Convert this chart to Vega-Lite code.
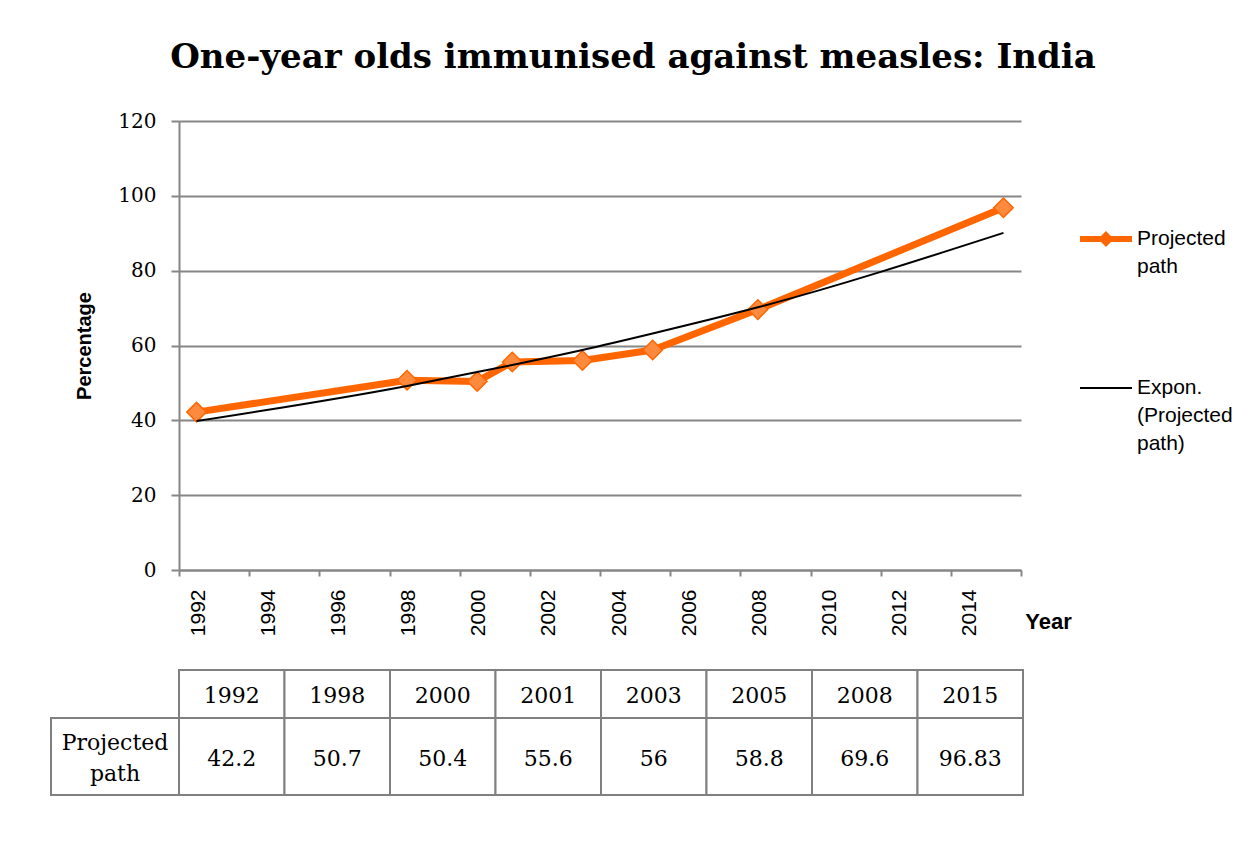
{
  "$schema": "https://vega.github.io/schema/vega-lite/v6.json",
  "padding": {"left": 50, "top": 41, "right": 10, "bottom": 10},
  "background": "white",
  "datasets": {
    "measles": [
      {"year": 1992, "value": 42.2, "series": "Projected path"},
      {"year": 1998, "value": 50.7, "series": "Projected path"},
      {"year": 2000, "value": 50.4, "series": "Projected path"},
      {"year": 2001, "value": 55.6, "series": "Projected path"},
      {"year": 2003, "value": 56, "series": "Projected path"},
      {"year": 2005, "value": 58.8, "series": "Projected path"},
      {"year": 2008, "value": 69.6, "series": "Projected path"},
      {"year": 2015, "value": 96.83, "series": "Projected path"}
    ],
    "trend": [
      {"year": 1992, "value": 39.8, "series": "Expon. (Projected path)"},
      {"year": 1998, "value": 49.2, "series": "Expon. (Projected path)"},
      {"year": 2000, "value": 52.9, "series": "Expon. (Projected path)"},
      {"year": 2001, "value": 54.8, "series": "Expon. (Projected path)"},
      {"year": 2003, "value": 58.8, "series": "Expon. (Projected path)"},
      {"year": 2005, "value": 63.2, "series": "Expon. (Projected path)"},
      {"year": 2008, "value": 70.2, "series": "Expon. (Projected path)"},
      {"year": 2015, "value": 90.1, "series": "Expon. (Projected path)"}
    ],
    "rowlabel": [
      {"label": "Projected path"}
    ]
  },
  "vconcat": [
    {
      "width": 842,
      "height": 449,
      "title": {
        "text": "One-year olds immunised against measles: India",
        "font": "DejaVu Serif",
        "fontSize": 34,
        "fontWeight": "bold",
        "color": "black",
        "anchor": "middle",
        "dx": 33,
        "offset": 36
      },
      "encoding": {
        "x": {
          "field": "year",
          "type": "quantitative",
          "scale": {"domain": [1991.5, 2015.5], "nice": false, "zero": false},
          "axis": {
            "values": [1991.5, 1993.5, 1995.5, 1997.5, 1999.5, 2001.5, 2003.5, 2005.5, 2007.5, 2009.5, 2011.5, 2013.5, 2015.5],
            "labelExpr": "datum.value < 2015 ? format(datum.value + 0.5, 'd') : ''",
            "labelAngle": 270,
            "labelAlign": "right",
            "labelBaseline": "middle",
            "labelOffset": 19,
            "labelPadding": 13,
            "labelOverlap": false,
            "labelFlush": false,
            "labelFont": "Liberation Sans",
            "labelFontSize": 21,
            "tickSize": 6,
            "grid": false,
            "title": "Year",
            "titleFont": "Liberation Sans",
            "titleFontSize": 22,
            "titleFontWeight": "bold",
            "titleAngle": 0,
            "titleAlign": "center",
            "titleBaseline": "middle",
            "titleX": 869,
            "titleY": 51
          }
        },
        "y": {
          "field": "value",
          "type": "quantitative",
          "scale": {"domain": [0, 120], "nice": false},
          "axis": {
            "values": [0, 20, 40, 60, 80, 100, 120],
            "tickSize": 8,
            "labelPadding": 15,
            "labelFont": "DejaVu Serif",
            "labelFontSize": 20,
            "grid": true,
            "title": "Percentage",
            "titleFont": "Liberation Sans",
            "titleFontSize": 20,
            "titleFontWeight": "bold",
            "titlePadding": 23
          }
        }
      },
      "layer": [
        {
          "data": {"name": "measles"},
          "mark": {"type": "line", "strokeWidth": 7, "strokeJoin": "round"},
          "encoding": {
            "color": {
              "field": "series",
              "type": "nominal",
              "scale": {
                "domain": ["Projected path", "Expon. (Projected path)"],
                "range": ["#FF6600", "#000000"]
              },
              "legend": {
                "title": null,
                "orient": "none",
                "legendX": 900,
                "legendY": 91,
                "padding": 0,
                "symbolType": "stroke",
                "symbolSize": 2704,
                "symbolStrokeWidth": 4,
                "labelOffset": 4,
                "labelFont": "Liberation Sans",
                "labelFontSize": 21,
                "labelColor": "black",
                "labelLimit": 300,
                "labelExpr": "split(datum.label, ' ')",
                "rowPadding": 84,
                "encoding": {
                  "symbols": {
                    "shape": {"value": {"expr": "(datum.value == 'Projected path' ? 'M-1,0H1M0,-0.14L0.14,0L0,0.14L-0.14,0Z' : 'M-1,0H1')"}},
                    "strokeWidth": {"value": {"expr": "(datum.value == 'Projected path' ? 6 : 2)"}},
                    "fill": {"value": {"expr": "(datum.value == 'Projected path' ? '#FF8A3D' : 'transparent')"}}
                  },
                  "labels": {
                    "lineHeight": {"value": 28}
                  }
                }
              }
            }
          }
        },
        {
          "data": {"name": "measles"},
          "mark": {
            "type": "point",
            "shape": "diamond",
            "filled": true,
            "size": 380,
            "fill": "#FF8A3D",
            "stroke": "#FF6600",
            "strokeWidth": 1.5,
            "opacity": 1
          }
        },
        {
          "data": {"name": "trend"},
          "mark": {"type": "line", "strokeWidth": 2, "interpolate": "monotone"},
          "encoding": {
            "color": {"field": "series", "type": "nominal"}
          }
        }
      ]
    },
    {
      "width": 844,
      "height": 125,
      "layer": [
        {
          "data": {"name": "measles"},
          "mark": {"type": "rect", "fill": "white", "stroke": "#808080", "strokeWidth": 2},
          "encoding": {
            "x": {"field": "year", "type": "ordinal", "scale": {"range": [0, 844], "paddingInner": 0, "paddingOuter": 0}, "axis": null},
            "y": {"datum": "Year", "type": "nominal", "scale": {"range": [0, 48], "paddingInner": 0, "paddingOuter": 0}, "axis": null}
          }
        },
        {
          "data": {"name": "measles"},
          "mark": {"type": "text", "font": "DejaVu Serif", "fontSize": 22, "color": "black", "baseline": "middle", "dy": 2},
          "encoding": {
            "x": {"field": "year", "type": "ordinal", "scale": {"range": [0, 844], "paddingInner": 0, "paddingOuter": 0}, "axis": null},
            "y": {"datum": "Year", "type": "nominal", "scale": {"range": [0, 48], "paddingInner": 0, "paddingOuter": 0}, "axis": null},
            "text": {"field": "year", "type": "ordinal"}
          }
        },
        {
          "data": {"name": "measles"},
          "mark": {"type": "rect", "fill": "white", "stroke": "#808080", "strokeWidth": 2},
          "encoding": {
            "x": {"field": "year", "type": "ordinal", "scale": {"range": [0, 844], "paddingInner": 0, "paddingOuter": 0}, "axis": null},
            "y": {"datum": "Value", "type": "nominal", "scale": {"range": [48, 125], "paddingInner": 0, "paddingOuter": 0}, "axis": null}
          }
        },
        {
          "data": {"name": "measles"},
          "mark": {"type": "text", "font": "DejaVu Serif", "fontSize": 22, "color": "black", "baseline": "middle", "dy": 2},
          "encoding": {
            "x": {"field": "year", "type": "ordinal", "scale": {"range": [0, 844], "paddingInner": 0, "paddingOuter": 0}, "axis": null},
            "y": {"datum": "Value", "type": "nominal", "scale": {"range": [48, 125], "paddingInner": 0, "paddingOuter": 0}, "axis": null},
            "text": {"field": "value", "type": "nominal"}
          }
        },
        {
          "data": {"name": "rowlabel"},
          "mark": {"type": "rect", "fill": "white", "stroke": "#808080", "strokeWidth": 2},
          "encoding": {
            "x": {"field": "label", "type": "nominal", "scale": {"range": [-128, 0], "paddingInner": 0, "paddingOuter": 0}, "axis": null},
            "y": {"datum": "Value", "type": "nominal", "scale": {"range": [48, 125], "paddingInner": 0, "paddingOuter": 0}, "axis": null}
          }
        },
        {
          "data": {"name": "rowlabel"},
          "mark": {"type": "text", "font": "DejaVu Serif", "fontSize": 22, "color": "black", "baseline": "middle", "lineBreak": " ", "lineHeight": 31, "dy": -14},
          "encoding": {
            "x": {"field": "label", "type": "nominal", "scale": {"range": [-128, 0], "paddingInner": 0, "paddingOuter": 0}, "axis": null},
            "y": {"datum": "Value", "type": "nominal", "scale": {"range": [48, 125], "paddingInner": 0, "paddingOuter": 0}, "axis": null},
            "text": {"field": "label", "type": "nominal"}
          }
        }
      ],
      "resolve": {"scale": {"x": "independent", "y": "independent"}}
    }
  ],
  "spacing": 33,
  "config": {
    "view": {"stroke": null},
    "axis": {
      "domainColor": "#868686",
      "domainWidth": 2,
      "tickColor": "#868686",
      "tickWidth": 2,
      "gridColor": "#868686",
      "gridWidth": 2,
      "labelColor": "black",
      "titleColor": "black"
    }
  }
}
